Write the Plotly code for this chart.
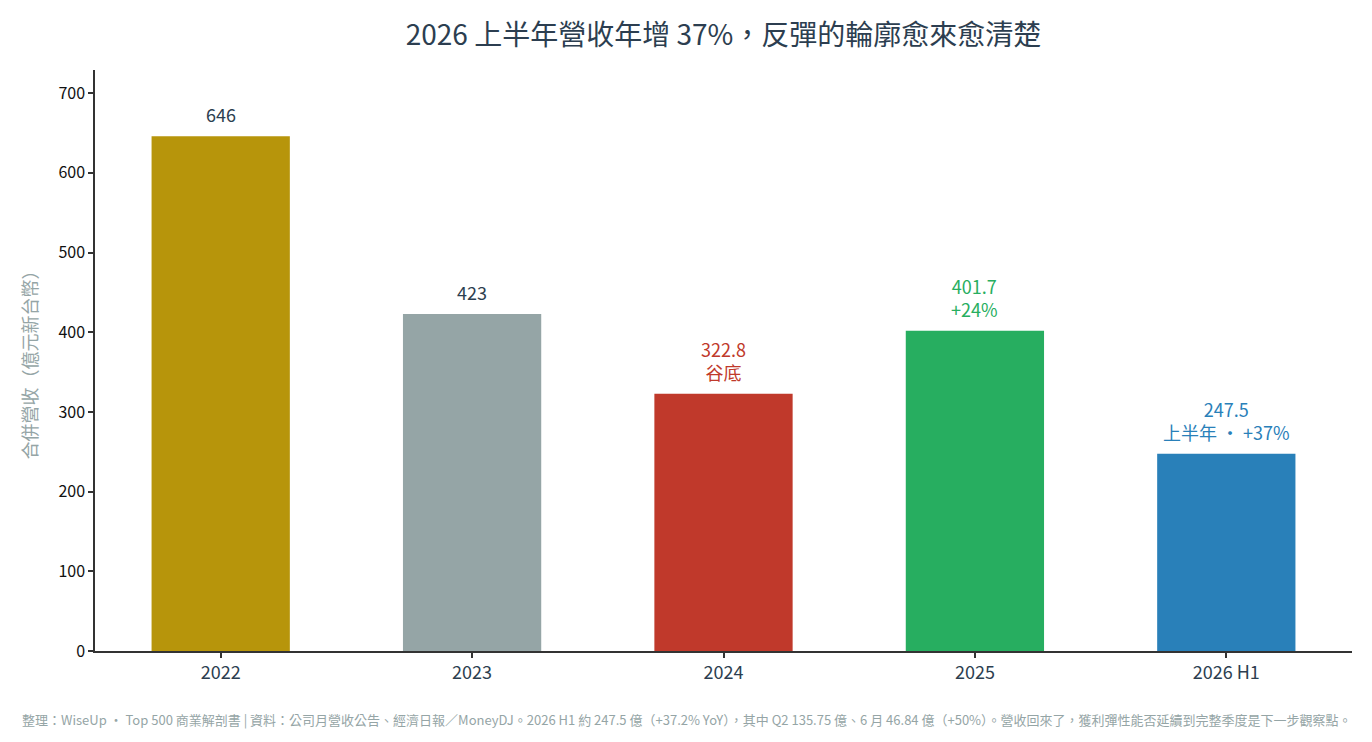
import plotly.graph_objects as go

years = ["2022", "2023", "2024", "2025", "2026 H1"]
revenue = [646, 423, 322.8, 401.7, 247.5]
bar_colors = ["#b7950b", "#95a5a6", "#c0392b", "#27ae60", "#2980b9"]
label_texts = ["646", "423", "322.8<br>谷底", "401.7<br>+24%", "247.5<br>上半年 · +37%"]
label_colors = ["#2c3e50", "#2c3e50", "#c0392b", "#27ae60", "#2980b9"]

FONT = "Futura, 'Noto Sans CJK TC', 'Noto Sans', sans-serif"

fig = go.Figure()
fig.add_trace(go.Bar(
    x=years, y=revenue, marker=dict(color=bar_colors, line=dict(width=0)),
    width=0.55, hoverinfo="x+y", showlegend=False,
))

for i, (y, t, c) in enumerate(zip(revenue, label_texts, label_colors)):
    fig.add_annotation(x=i, y=y, text=t, showarrow=False, yanchor="bottom",
                       yshift=7, font=dict(size=18, color=c, family=FONT))

fig.update_layout(
    width=1372, height=742,
    margin=dict(l=95, r=20, t=70, b=91),
    paper_bgcolor="white", plot_bgcolor="white",
    font=dict(family=FONT),
    title=dict(text="2026 上半年營收年增 37%，反彈的輪廓愈來愈清楚",
               x=0.5, xref="paper", xanchor="center", y=0.952, yref="container",
               yanchor="middle",
               font=dict(size=28, color="#2c3e50", family=FONT)),
    xaxis=dict(type="category", range=[-0.5, 4.5], showline=True, linecolor="#333333", linewidth=1.5,
               ticks="outside", ticklen=5, tickcolor="#333333", tickwidth=1.5,
               tickfont=dict(size=18, color="#2c3e50", family=FONT), showgrid=False),
    yaxis=dict(range=[0, 729], showline=True, linecolor="#333333", linewidth=1.5,
               ticks="outside", ticklen=5, tickcolor="#333333", tickwidth=1.5,
               dtick=100, showgrid=False, zeroline=False,
               tickfont=dict(size=16, color="#111111", family=FONT),
               title=dict(text="合併營收（億元新台幣）", standoff=16,
                          font=dict(size=18, color="#95a5a6", family=FONT))),
)

fig.add_annotation(
    text="整理：WiseUp · Top 500 商業解剖書 | 資料：公司月營收公告、經濟日報／MoneyDJ。2026 H1 約 247.5 億（+37.2% YoY），其中 Q2 135.75 億、6 月 46.84 億（+50%）。營收回來了，獲利彈性能否延續到完整季度是下一步觀察點。",
    xref="paper", yref="paper", x=0.4706, y=-0.118, xanchor="center", yanchor="middle",
    showarrow=False, font=dict(size=13, color="#95a5a6", family=FONT),
)

fig.write_html("out.html")
